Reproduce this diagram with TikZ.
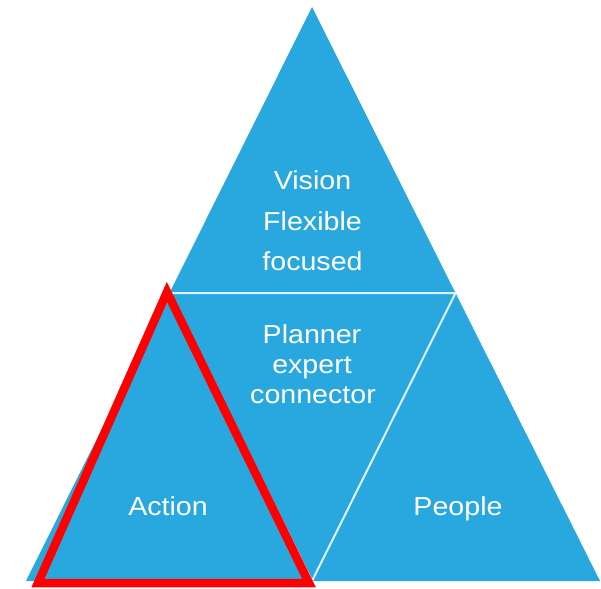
\documentclass[tikz,border=0pt]{standalone}
\usepackage{fontspec}
\usepackage{graphicx}
\setmainfont{Liberation Sans}
\definecolor{triblue}{RGB}{41,168,223}
\definecolor{trired}{RGB}{255,0,0}
\tikzset{
  lbl/.style={text=white, anchor=base, inner sep=0pt, font=\fontsize{26}{26}\selectfont},
  divider/.style={draw=white!85!triblue, line width=2pt},
  highlight/.style={draw=trired, line width=8.5pt, line join=miter}
}
\newcommand{\wide}[1]{\scalebox{1.1}[1]{#1}}
\begin{document}
\begin{tikzpicture}[x=1pt,y=-1pt]
\useasboundingbox (0,0) rectangle (601,588);
\coordinate (top) at (312,7);
\coordinate (bl) at (26,581);
\coordinate (br) at (600,581);
\coordinate (ml) at (169.5,293);
\coordinate (mr) at (455.5,293);
\coordinate (mb) at (312,581);
\fill[triblue] (top) -- (bl) -- (br) -- cycle;
\draw[divider] (ml) -- (mr) -- (mb) -- cycle;
\node[lbl] (v1) at (312.5,189) {\wide{Vision}};
\node[lbl] (v2) at (312.5,230) {\wide{Flexible}};
\node[lbl] (v3) at (312.5,270) {\wide{focused}};
\node[lbl] (p1) at (312,343) {\wide{Planner}};
\node[lbl] (p2) at (312,373) {\wide{expert}};
\node[lbl] (p3) at (313,403) {\wide{connector}};
\node[lbl] (act) at (168,515) {\wide{Action}};
\node[lbl] (ppl) at (458,515) {\wide{People}};
\coordinate (ra) at (167,292);
\coordinate (rl) at (38,583);
\coordinate (rr) at (309,583);
\draw[highlight] (ra) -- (rl) -- (rr) -- cycle;
\end{tikzpicture}
\end{document}
